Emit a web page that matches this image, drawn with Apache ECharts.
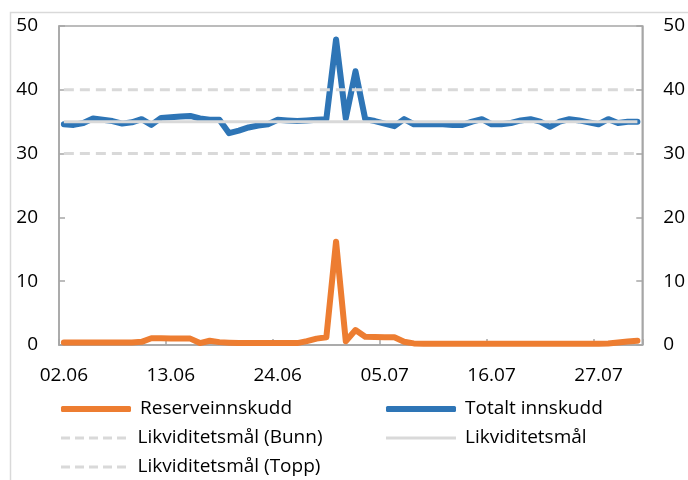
<!DOCTYPE html>
<html>
<head>
<meta charset="utf-8">
<script src="https://cdn.jsdelivr.net/npm/echarts@6/dist/echarts.min.js"></script>
<style>html,body{margin:0;padding:0;background:#fff}#c{width:688px;height:480px}</style>
</head>
<body>
<div id="c"></div>
<script>
// categories: calendar days 02.06 - 31.07
const categories = [
 '02.06','03.06','04.06','05.06','06.06','07.06','08.06','09.06','10.06','11.06',
 '12.06','13.06','14.06','15.06','16.06','17.06','18.06','19.06','20.06','21.06',
 '22.06','23.06','24.06','25.06','26.06','27.06','28.06','29.06','30.06','01.07',
 '02.07','03.07','04.07','05.07','06.07','07.07','08.07','09.07','10.07','11.07',
 '12.07','13.07','14.07','15.07','16.07','17.07','18.07','19.07','20.07','21.07',
 '22.07','23.07','24.07','25.07','26.07','27.07','28.07','29.07','30.07','31.07'
];
const reserveinnskudd = [
 0.4,0.4,0.4,0.4,0.4,0.4,0.4,0.4,0.5,1.05,
 1.05,1.0,1.0,1.0,0.3,0.67,0.45,0.36,0.3,0.3,
 0.3,0.3,0.3,0.3,0.3,0.6,1.0,1.2,16.2,0.6,
 2.35,1.3,1.25,1.2,1.2,0.5,0.25,0.2,0.2,0.2,
 0.2,0.2,0.2,0.2,0.2,0.2,0.2,0.2,0.2,0.2,
 0.2,0.2,0.2,0.2,0.2,0.2,0.25,0.4,0.55,0.67
];
const totaltInnskudd = [
 34.6,34.5,34.8,35.5,35.3,35.1,34.7,34.9,35.4,34.5,
 35.6,35.7,35.8,35.9,35.5,35.3,35.3,33.2,33.6,34.1,
 34.4,34.6,35.3,35.2,35.1,35.2,35.3,35.4,47.9,35.5,
 42.9,35.4,35.1,34.7,34.3,35.4,34.6,34.6,34.6,34.6,
 34.5,34.5,35.0,35.4,34.6,34.6,34.8,35.2,35.4,35.0,
 34.2,35.0,35.4,35.2,34.9,34.6,35.4,34.8,35.0,35.0
];
const maalBunn = 30, maal = 35, maalTopp = 40;
const yTicks = [0, 10, 20, 30, 40, 50];

const flat = v => categories.map(() => v);
const FONT = 'Open Sans';
const chart = echarts.init(document.getElementById('c'), null, {renderer: 'canvas'});
const gray = '#d9d9d9';
const axisGray = '#a6a6a6';
const orange = '#ED7D31';
const blue = '#2E75B6';
const yAxisCommon = {
  type: 'value', min: yTicks[0], max: yTicks[yTicks.length - 1], interval: 10,
  axisLine: {show: true, lineStyle: {color: axisGray, width: 1.5}},
  axisTick: {show: true, inside: true, length: 6, lineStyle: {color: axisGray, width: 1.5}},
  splitLine: {show: false},
  axisLabel: {color: '#000', fontFamily: FONT, fontSize: 19, margin: 21}
};
const dashIcon = 'path://M0,0h9v3h-9z M14,0h9v3h-9z M28,0h9v3h-9z M42,0h9v3h-9z M56,0h9v3h-9z';
function leg(name, left, top, icon, h) {
  return {
    left: left, top: top, data: [{name: name, icon: icon}],
    itemWidth: 70, itemHeight: h, itemGap: 0,
    textStyle: {color: '#000', fontFamily: FONT, fontSize: 19, lineHeight: 24, padding: [0, 0, 0, 4]}
  };
}

chart.setOption({
  animation: false,
  graphic: [{type: 'rect', shape: {x: 10.5, y: 12.5, width: 700, height: 500}, style: {fill: 'none', stroke: gray, lineWidth: 1.5}, silent: true}],
  grid: {left: 59, right: 45, top: 26, bottom: 135, show: true, borderColor: axisGray, borderWidth: 1.5, containLabel: false},
  legend: [
    leg('Reserveinnskudd', 56, 392, 'roundRect', 6),
    leg('Totalt innskudd', 381, 392, 'roundRect', 6),
    leg('Likviditetsmål (Bunn)', 56, 421, dashIcon, 3),
    leg('Likviditetsmål', 381, 421, 'rect', 3),
    leg('Likviditetsmål (Topp)', 56, 450, dashIcon, 3)
  ],
  xAxis: {
    type: 'category', data: categories, boundaryGap: true,
    axisLine: {lineStyle: {color: axisGray, width: 1.5}},
    axisTick: {show: true, inside: true, length: 6, interval: 10, lineStyle: {color: axisGray, width: 1.5}},
    axisLabel: {interval: 10, color: '#000', fontFamily: FONT, fontSize: 19, margin: 21}
  },
  yAxis: [
    Object.assign({position: 'left'}, yAxisCommon),
    Object.assign({position: 'right'}, yAxisCommon)
  ],
  series: [
    {name: 'Reserveinnskudd', type: 'line', data: reserveinnskudd, symbol: 'none', lineStyle: {color: orange, width: 6, cap: 'round', join: 'round'}, itemStyle: {color: orange}},
    {name: 'Totalt innskudd', type: 'line', data: totaltInnskudd, symbol: 'none', lineStyle: {color: blue, width: 6, cap: 'round', join: 'round'}, itemStyle: {color: blue}},
    {name: 'Likviditetsmål (Bunn)', type: 'line', data: flat(maalBunn), symbol: 'none', lineStyle: {color: gray, width: 3, type: [10, 6]}, itemStyle: {color: gray}},
    {name: 'Likviditetsmål', type: 'line', data: flat(maal), symbol: 'none', lineStyle: {color: gray, width: 3}, itemStyle: {color: gray}},
    {name: 'Likviditetsmål (Topp)', type: 'line', data: flat(maalTopp), symbol: 'none', lineStyle: {color: gray, width: 3, type: [10, 6]}, itemStyle: {color: gray}}
  ]
});
</script>
</body>
</html>
